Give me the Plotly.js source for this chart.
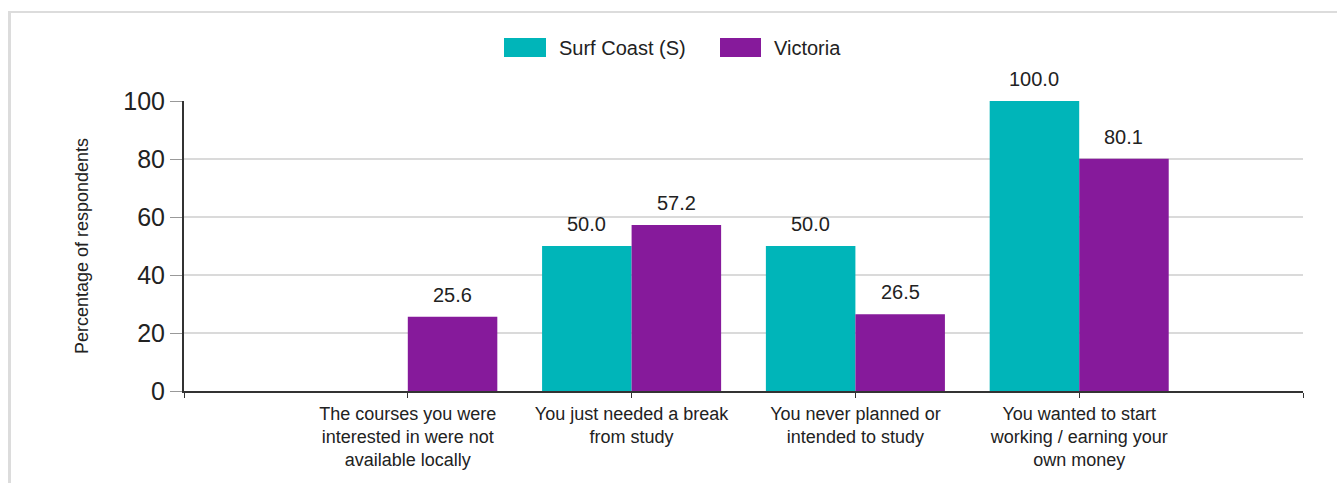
<!DOCTYPE html>
<html>
<head>
<meta charset="utf-8">
<script src="https://cdn.plot.ly/plotly-3.0.1.min.js"></script>
<style>
  html, body { margin: 0; padding: 0; background: #ffffff; }
  #frame { position: absolute; left: 8px; top: 11px; width: 1340px; height: 480px;
           border-top: 2px solid #dcdcdc; border-left: 3px solid #dcdcdc; box-sizing: border-box; }
  #chart { position: absolute; left: 0; top: 0; width: 1337px; height: 483px; }
</style>
</head>
<body>
<div id="frame"></div>
<div id="chart"></div>
<script>
// ---- Data ----
const categories = [
  "The courses you were<br>interested in were not<br>available locally",
  "You just needed a break<br>from study",
  "You never planned or<br>intended to study",
  "You wanted to start<br>working / earning your<br>own money"
];
const seriesNames = ["Surf Coast (S)", "Victoria"];
const surfCoast = [null, 50.0, 50.0, 100.0];
const victoria = [25.6, 57.2, 26.5, 80.1];
const yTicks = [0, 20, 40, 60, 80, 100];

// ---- Style ----
const colors = ["#00B5B9", "#861A9B"];
const W = 1337, H = 483;
const M = { l: 184, r: 34, t: 101, b: 92 };
const plotW = W - M.l - M.r, plotH = H - M.t - M.b;
const px = x => (x - M.l) / plotW;
const py = y => (H - M.b - y) / plotH;
const FONT = "Liberation Sans, Arial, sans-serif";

const xIdx = categories.map((c, i) => i);
const allSeries = [surfCoast, victoria];

const traces = allSeries.map((vals, s) => ({
  type: "bar",
  name: seriesNames[s],
  x: xIdx,
  y: vals,
  marker: { color: colors[s] },
  hoverinfo: "name+y",
  showlegend: false
}));

const annotations = [];
allSeries.forEach((vals, s) => {
  vals.forEach((v, i) => {
    if (v === null) return;
    annotations.push({
      x: i + (s === 0 ? -0.2 : 0.2), y: v, xref: "x", yref: "y",
      text: v.toFixed(1), showarrow: false, yanchor: "middle", yshift: 22,
      font: { family: FONT, size: 20, color: "#222" }
    });
  });
});

// Custom legend
const legendItems = [
  { sx0: 504, sx1: 546, tx: 557 },
  { sx0: 720, sx1: 761, tx: 772 }
];
const shapes = [];
legendItems.forEach((it, s) => {
  shapes.push({
    type: "rect", xref: "paper", yref: "paper",
    x0: px(it.sx0), x1: px(it.sx1), y0: py(57), y1: py(38),
    fillcolor: colors[s], line: { width: 0 }
  });
  annotations.push({
    xref: "paper", yref: "paper", x: px(it.tx), y: py(47.5),
    xanchor: "left", yanchor: "middle", showarrow: false,
    text: seriesNames[s], font: { family: FONT, size: 20, color: "#222" }
  });
});

const layout = {
  width: W, height: H,
  margin: M,
  paper_bgcolor: "rgba(0,0,0,0)",
  plot_bgcolor: "rgba(0,0,0,0)",
  barmode: "group",
  bargap: 0.2,
  bargroupgap: 0,
  showlegend: false,
  font: { family: FONT, color: "#222" },
  xaxis: {
    range: [-1, 4],
    tickvals: [-1].concat(xIdx, [4]),
    ticktext: [""].concat(categories, [""]),
    ticks: "outside", ticklen: 5, tickwidth: 1, tickcolor: "#333",
    showline: true, linecolor: "#333", linewidth: 2,
    showgrid: false, zeroline: false,
    tickfont: { family: FONT, size: 18, color: "#222" },
    fixedrange: true
  },
  yaxis: {
    range: [0, 100],
    tickvals: yTicks,
    ticks: "outside", ticklen: 12, tickwidth: 1, tickcolor: "#999",
    showline: true, linecolor: "#333", linewidth: 2,
    showgrid: true, gridcolor: "#dadada", gridwidth: 1.5,
    zeroline: false,
    tickfont: { family: FONT, size: 25, color: "#222" },
    title: { text: "Percentage of respondents", font: { family: FONT, size: 18, color: "#222" }, standoff: 30 },
    fixedrange: true
  },
  shapes: shapes,
  annotations: annotations
};

Plotly.newPlot("chart", traces, layout, { displayModeBar: false, staticPlot: true });
</script>
</body>
</html>
